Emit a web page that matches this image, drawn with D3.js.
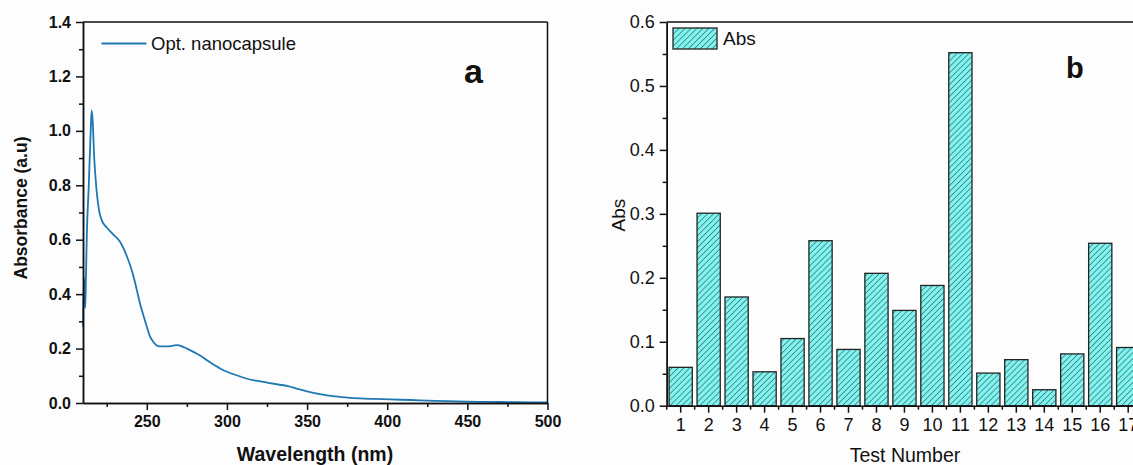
<!DOCTYPE html>
<html lang="en">
<head>
    <meta charset="UTF-8">
    <title>Absorbance</title>
    <script src="https://d3js.org/d3.v7.min.js"></script>
    <style>
        body { margin: 0; background: #fff; }
        text { font-family: Arial, "Liberation Sans", sans-serif; fill: #111; }
        .axis path, .axis line { stroke: #111; stroke-width: 1.5; }
        .bold text { font-weight: bold; }
    </style>
</head>
<body>
    <div id="chart"></div>
    <script>

        // panel a : UV-vis spectrum (wavelength nm, absorbance)
        const wavelength = [210.2, 210.8, 211.2, 211.6, 212.0, 212.6, 213.8, 215.0, 215.6, 216.2, 217.2, 218.7, 220.5, 222, 225, 229, 233, 237.5, 241, 244, 246, 248, 250, 252, 254, 256, 258, 262, 266, 269, 272, 275, 280, 284, 288, 292, 296, 300, 306, 312, 318, 325, 332, 338, 344, 350, 358, 366, 375, 383, 392, 402, 415, 425, 438, 450, 465, 480, 500];
        const absorbance = [0.28, 0.46, 0.40, 0.35, 0.45, 0.62, 0.80, 1.00, 1.075, 1.04, 0.90, 0.78, 0.70, 0.67, 0.645, 0.62, 0.595, 0.54, 0.48, 0.41, 0.36, 0.32, 0.28, 0.245, 0.225, 0.212, 0.208, 0.208, 0.21, 0.213, 0.208, 0.20, 0.185, 0.172, 0.155, 0.14, 0.126, 0.115, 0.102, 0.09, 0.082, 0.075, 0.068, 0.062, 0.052, 0.043, 0.033, 0.025, 0.02, 0.017, 0.015, 0.013, 0.011, 0.009, 0.007, 0.005, 0.004, 0.003, 0.002];
        const wlTicks = [250, 300, 350, 400, 450, 500];
        const absTicks = [0.0, 0.2, 0.4, 0.6, 0.8, 1.0, 1.2, 1.4];

        // panel b : Abs per test number
        const tests = ["1", "2", "3", "4", "5", "6", "7", "8", "9", "10", "11", "12", "13", "14", "15", "16", "17"];
        const absValues = [0.060, 0.301, 0.170, 0.053, 0.105, 0.258, 0.088, 0.207, 0.149, 0.188, 0.552, 0.051, 0.072, 0.025, 0.081, 0.254, 0.091];
        const bTicks = [0.0, 0.1, 0.2, 0.3, 0.4, 0.5, 0.6];

        var width = 1133;
        var height = 465;

        var svg = d3.select("#chart")
            .append("svg")
            .attr("width", width)
            .attr("height", height);

        svg.append("rect").attr("width", width).attr("height", height).attr("fill", "#fdfdfd");

        // hatch for bars
        var pat = svg.append("defs").append("pattern")
            .attr("id", "hatch")
            .attr("patternUnits", "userSpaceOnUse")
            .attr("width", 4.2)
            .attr("height", 4.2)
            .attr("patternTransform", "rotate(45)");
        pat.append("rect").attr("width", 4.2).attr("height", 4.2).attr("fill", "#80f4f0");
        pat.append("line").attr("x1", 0).attr("y1", 0).attr("x2", 0).attr("y2", 4.2)
            .attr("stroke", "#1a3535").attr("stroke-width", 1);

        // ---------------- panel a ----------------
        var xA = d3.scaleLinear().domain([210.2, 500]).range([83, 547.5]);
        var yA = d3.scaleLinear().domain([0, 1.4]).range([403, 22]);

        var spec = wavelength.map(function(w, i) { return {w: w, a: absorbance[i]}; });

        svg.append("path")
            .datum(spec)
            .attr("fill", "none")
            .attr("stroke", "#1f78b4")
            .attr("stroke-width", 1.8)
            .attr("d", d3.line()
                .x(function(d) { return xA(d.w); })
                .y(function(d) { return yA(d.a); })
                .curve(d3.curveMonotoneX));

        // minor ticks
        svg.append("g").attr("class", "axis")
            .attr("transform", "translate(0," + yA(0) + ")")
            .call(d3.axisBottom(xA).tickValues([225, 275, 325, 375, 425, 475]).tickSize(4).tickFormat("").tickSizeOuter(0));
        svg.append("g").attr("class", "axis")
            .attr("transform", "translate(" + xA.range()[0] + ",0)")
            .call(d3.axisLeft(yA).tickValues([0.1, 0.3, 0.5, 0.7, 0.9, 1.1, 1.3]).tickSize(4).tickFormat("").tickSizeOuter(0));

        var axA = svg.append("g").attr("class", "axis bold")
            .attr("transform", "translate(0," + yA(0) + ")")
            .call(d3.axisBottom(xA).tickValues(wlTicks).tickSize(7).tickPadding(6).tickSizeOuter(0));
        axA.selectAll("text").attr("font-size", "16px");

        var ayA = svg.append("g").attr("class", "axis bold")
            .attr("transform", "translate(" + xA.range()[0] + ",0)")
            .call(d3.axisLeft(yA).tickValues(absTicks).tickFormat(d3.format(".1f")).tickSize(7).tickPadding(5).tickSizeOuter(0));
        ayA.selectAll("text").attr("font-size", "16px");

        // box
        svg.append("line").attr("x1", xA.range()[0]).attr("x2", xA.range()[1])
            .attr("y1", yA(1.4)).attr("y2", yA(1.4)).attr("stroke", "#111").attr("stroke-width", 1.5);
        svg.append("line").attr("x1", xA.range()[1]).attr("x2", xA.range()[1])
            .attr("y1", yA(1.4)).attr("y2", yA(0)).attr("stroke", "#111").attr("stroke-width", 1.5);

        svg.append("text")
            .attr("x", 315)
            .attr("y", 461)
            .attr("text-anchor", "middle")
            .attr("font-size", "19.5px")
            .attr("font-weight", "bold")
            .text("Wavelength (nm)");

        svg.append("text")
            .attr("transform", "translate(27," + 208 + ") rotate(-90)")
            .attr("text-anchor", "middle")
            .attr("font-size", "17.5px")
            .attr("font-weight", "bold")
            .text("Absorbance (a.u)");

        // legend a
        svg.append("line").attr("x1", 101.5).attr("x2", 146.5).attr("y1", 43.5).attr("y2", 43.5)
            .attr("stroke", "#1f78b4").attr("stroke-width", 1.8);
        svg.append("text").attr("x", 151).attr("y", 50).attr("font-size", "18.5px").text("Opt. nanocapsule");

        svg.append("text").attr("x", 464).attr("y", 83)
            .attr("font-family", "'Open Sans', sans-serif")
            .attr("font-size", "34px").attr("font-weight", "bold").text("a");

        // ---------------- panel b ----------------
        var step = 27.97;
        var xB = d3.scaleBand().domain(tests).range([666.7, 666.7 + tests.length * step])
            .paddingInner(0.17).paddingOuter(0.085);
        var yB = d3.scaleLinear().domain([0, 0.6]).range([405.7, 22]);

        svg.selectAll(".bar")
            .data(absValues)
            .enter().append("rect")
            .attr("class", "bar")
            .attr("x", function(d, i) { return xB(tests[i]); })
            .attr("y", function(d) { return yB(d); })
            .attr("width", xB.bandwidth())
            .attr("height", function(d) { return yB(0) - yB(d); })
            .attr("fill", "url(#hatch)")
            .attr("stroke", "#222")
            .attr("stroke-width", 1.3);

        // minor x ticks at category boundaries
        svg.append("g").selectAll("line")
            .data(tests)
            .enter().append("line")
            .attr("x1", function(d) { return xB(d) + xB.bandwidth() / 2 - xB.step() / 2; })
            .attr("x2", function(d) { return xB(d) + xB.bandwidth() / 2 - xB.step() / 2; })
            .attr("y1", yB(0)).attr("y2", yB(0) + 4)
            .attr("stroke", "#111").attr("stroke-width", 1.5);

        svg.append("g").attr("class", "axis")
            .attr("transform", "translate(" + xB.range()[0] + ",0)")
            .call(d3.axisLeft(yB).tickValues([0.05, 0.15, 0.25, 0.35, 0.45, 0.55]).tickSize(4).tickFormat("").tickSizeOuter(0));

        var axB = svg.append("g").attr("class", "axis")
            .attr("transform", "translate(0," + yB(0) + ")")
            .call(d3.axisBottom(xB).tickSize(7).tickPadding(6).tickSizeOuter(0));
        axB.selectAll("text").attr("font-size", "18px");

        var ayB = svg.append("g").attr("class", "axis")
            .attr("transform", "translate(" + xB.range()[0] + ",0)")
            .call(d3.axisLeft(yB).tickValues(bTicks).tickFormat(d3.format(".1f")).tickSize(7).tickPadding(5).tickSizeOuter(0));
        ayB.selectAll("text").attr("font-size", "18px");

        svg.append("line").attr("x1", xB.range()[0]).attr("x2", xB.range()[1])
            .attr("y1", yB(0.6)).attr("y2", yB(0.6)).attr("stroke", "#111").attr("stroke-width", 1.5);

        svg.append("text")
            .attr("x", 905)
            .attr("y", 462)
            .attr("text-anchor", "middle")
            .attr("font-size", "19.5px")
            .text("Test Number");

        svg.append("text")
            .attr("transform", "translate(625,215) rotate(-90)")
            .attr("text-anchor", "middle")
            .attr("font-size", "19px")
            .text("Abs");

        // legend b
        svg.append("rect").attr("x", 673).attr("y", 28).attr("width", 44).attr("height", 21)
            .attr("fill", "url(#hatch)").attr("stroke", "#222").attr("stroke-width", 1.3);
        svg.append("text").attr("x", 723).attr("y", 45).attr("font-size", "19px").text("Abs");

        svg.append("text").attr("x", 1066).attr("y", 78)
            .attr("font-family", "'Open Sans', sans-serif")
            .attr("font-size", "29px").attr("font-weight", "bold").text("b");
    </script>
</body>
</html>
